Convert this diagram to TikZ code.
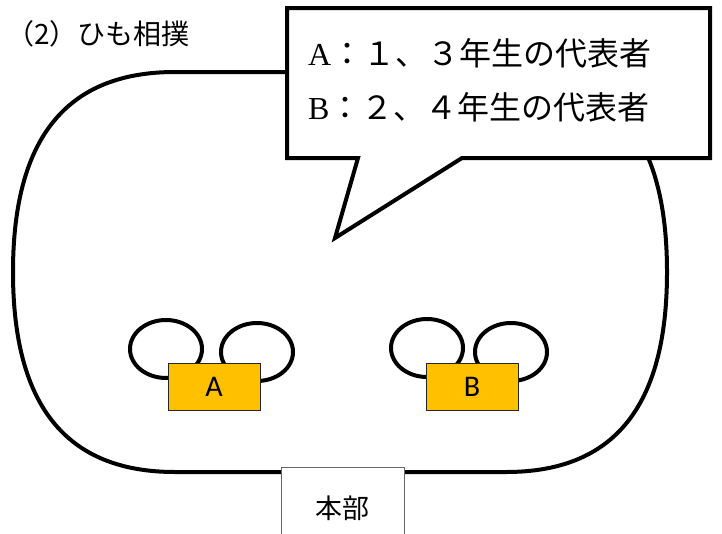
\documentclass[tikz,border=0pt]{standalone}
\usepackage{fontspec}
\newfontfamily\jgoth{Noto Sans CJK JP}
\newfontfamily\lserif{Liberation Serif}
\newfontfamily\lsans{Carlito}
\definecolor{boxyellow}{HTML}{FFC000}
\tikzset{
  ring/.style={draw=black, line width=4},
  player/.style={draw=black!85, line width=1, fill=boxyellow, minimum width=92, minimum height=47, inner sep=0, font=\lsans\fontsize{30}{34}\selectfont},
  calltext/.style={anchor=west, inner sep=0, font=\jgoth\fontsize{32}{36}\selectfont},
}
\begin{document}
\begin{tikzpicture}[x=1pt,y=-1pt]
\useasboundingbox (0,0) rectangle (722,533);
% title
\node[anchor=west, inner sep=0, font=\jgoth\fontsize{28}{32}\selectfont] (title) at (6,34) {（2）ひも相撲};
% field
\draw[ring] (175,72) -- (506,72)
  .. controls (614.5,72) and (667,138) .. (667,272)
  .. controls (667,406) and (614.5,472) .. (506,472)
  -- (175,472)
  .. controls (66.5,472) and (13,406) .. (13,272)
  .. controls (13,138) and (66.5,72) .. cycle;
% strings A
\draw[ring] (166,349) ellipse [x radius=36, y radius=29];
\draw[ring] (257,352) ellipse [x radius=36, y radius=29];
\node[player] (A) at (214,387) {A};
% strings B
\draw[ring] (427,348) ellipse [x radius=36, y radius=29];
\draw[ring] (511,352) ellipse [x radius=36, y radius=29];
\node[player] (B) at (472,387) {B};
% callout
\draw[line width=4, fill=white, line join=miter] (287,8) -- (710,8) -- (710,158) -- (462,158) -- (335,238) -- (358,158) -- (287,158) -- cycle;
\node[calltext] (lineA) at (308,53) {{\lserif A}：１、３年生の代表者};
\node[calltext] (lineB) at (308,107) {{\lserif B}：２、４年生の代表者};
% honbu
\draw[draw=black!60, line width=1, fill=white] (281,467) rectangle (404,540);
\node[font=\jgoth\fontsize{27}{30}\selectfont] (hq) at (342,508) {本部};
\end{tikzpicture}
\end{document}
